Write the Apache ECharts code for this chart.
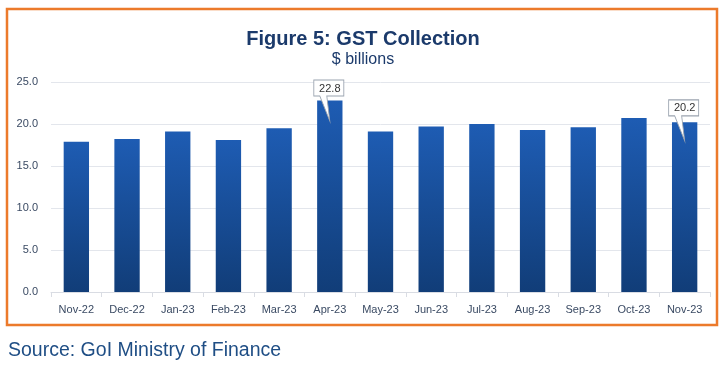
<!DOCTYPE html>
<html><head><meta charset="utf-8">
<script src="https://cdn.jsdelivr.net/npm/echarts@6/dist/echarts.min.js"></script>
<style>html,body{margin:0;padding:0;background:#fff}#c{width:726px;height:365px}</style>
</head><body><div id="c"></div>
<script>
const categories = ['Nov-22','Dec-22','Jan-23','Feb-23','Mar-23','Apr-23','May-23','Jun-23','Jul-23','Aug-23','Sep-23','Oct-23','Nov-23'];
const gstValues = [17.9, 18.2, 19.1, 18.1, 19.5, 22.8, 19.1, 19.7, 20.0, 19.3, 19.6, 20.7, 20.2];
const yTicks = [0, 5, 10, 15, 20, 25];
const calloutCategories = ['Apr-23', 'Nov-23'];

const calloutPath = 'path://M0,0 H30 V16 H13 L16,41 L6,16 H0 Z';
const chart = echarts.init(document.getElementById('c'), null, {renderer:'canvas'});
const navy = '#1B3A6B';
chart.setOption({
  animation:false,
  title:[{text:'Figure 5: GST Collection', left:'center', top:29.5, padding:0,
          textStyle:{fontFamily:'Liberation Sans', fontSize:20, fontWeight:'bold', color:navy}},
         {text:'$ billions', left:'center', top:52, padding:0,
          textStyle:{fontFamily:'Liberation Sans', fontSize:16, fontWeight:'normal', color:navy}},
         {text:'Source: GoI Ministry of Finance', left:8, top:341, padding:0,
          textStyle:{fontFamily:'Liberation Sans', fontSize:19.5, fontWeight:'normal', color:'#1F4E85'}}],
  graphic:[{type:'rect', shape:{x:7, y:9, width:710, height:316},
            style:{fill:'none', stroke:'#EC7A2B', lineWidth:2.5}}],
  grid:{left:51, right:16, top:82, bottom:73, containLabel:false},
  xAxis:{type:'category', data:categories,
    axisLine:{lineStyle:{color:'#D9DCE3', width:1}},
    axisTick:{show:true, alignWithLabel:false, length:5, lineStyle:{color:'#D9DCE3'}},
    axisLabel:{color:'#3A4A63', fontFamily:'Liberation Sans', fontSize:11, margin:12}},
  yAxis:{type:'value', min:yTicks[0], max:yTicks[yTicks.length-1], interval:5,
    axisLabel:{formatter:v=>v.toFixed(1), color:'#3A4A63', fontFamily:'Liberation Sans', fontSize:11, margin:13},
    axisLine:{show:false}, axisTick:{show:false},
    splitLine:{lineStyle:{color:'#E3E6EC', width:1}}},
  series:[{type:'bar', data:gstValues, barWidth:'50%',
    itemStyle:{color:new echarts.graphic.LinearGradient(0,0,0,1,[
      {offset:0,color:'#1E5CB3'},{offset:1,color:'#113D78'}])},
    markPoint:{
      symbol:calloutPath, symbolSize:[30,41], symbolKeepAspect:false,
      itemStyle:{color:'#FFFFFF', borderColor:'#9AA3AF', borderWidth:1},
      label:{show:true, position:'inside', offset:[1,-12], color:'#333', fontFamily:'Liberation Sans', fontSize:11,
             formatter:p=>p.value.toFixed(1)},
      data:calloutCategories.map((c,i)=>{
        const idx = categories.indexOf(c);
        return {coord:[c, gstValues[idx]], value:gstValues[idx], symbolOffset: i===0?[-1,0]:[-1,-2]};
      })
    }
  }]
});
</script></body></html>
